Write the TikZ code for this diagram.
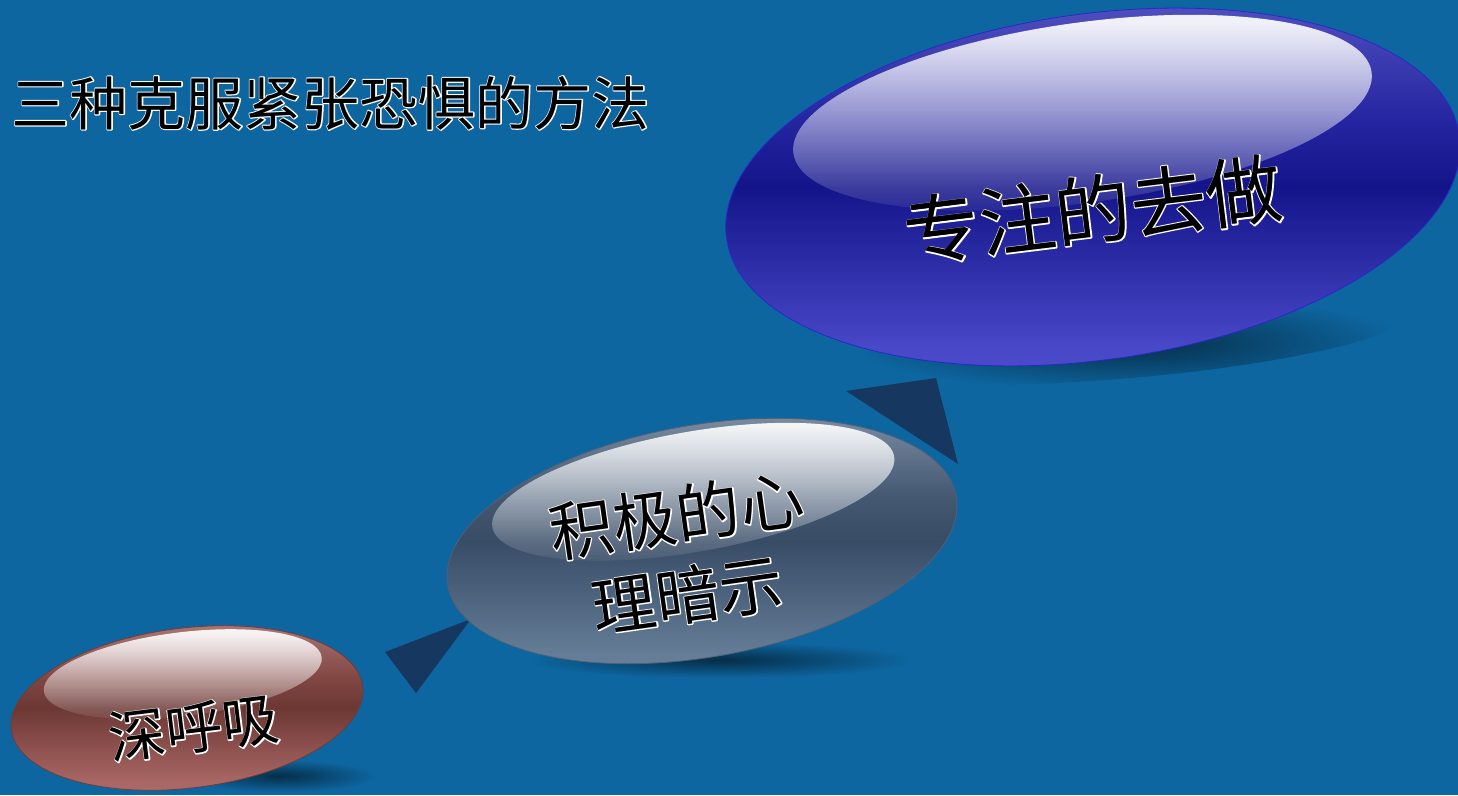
\documentclass[tikz,border=0pt]{standalone}
\usepackage{fontspec}
\setmainfont{Noto Sans CJK SC}
\usepackage{tikz}
\usetikzlibrary{shapes.geometric,fadings,positioning,calc}

% black letters with a thin white edge: white stroked copy under a plain copy
\newcommand\outl[1]{\rlap{\special{pdf:literal direct 1 1 1 RG 2.2 w 1 j 1 Tr}#1\special{pdf:literal direct 0 Tr}}#1}

\definecolor{bgblue}{RGB}{14,102,160}
\definecolor{tridark}{RGB}{22,56,96}
\definecolor{redrim}{RGB}{110,60,58}
\definecolor{grayrim}{RGB}{80,96,118}
\definecolor{bluerim}{RGB}{40,40,200}

% red pill
\definecolor{rpA}{RGB}{196,128,128}
\definecolor{rpB}{RGB}{168,102,100}
\definecolor{rpC}{RGB}{108,56,52}
\definecolor{rpD}{RGB}{128,70,66}
\definecolor{rpE}{RGB}{190,140,140}
\pgfdeclareverticalshading{redpill}{100bp}{color(0bp)=(rpA); color(30bp)=(rpB);
  color(50bp)=(rpC); color(58bp)=(rpD); color(80bp)=(rpE); color(100bp)=(rpE)}
% gray pill
\definecolor{gpA}{RGB}{136,160,186}
\definecolor{gpB}{RGB}{100,124,150}
\definecolor{gpC}{RGB}{56,76,102}
\definecolor{gpD}{RGB}{68,88,114}
\definecolor{gpE}{RGB}{150,166,186}
\pgfdeclareverticalshading{graypill}{100bp}{color(0bp)=(gpA); color(30bp)=(gpB);
  color(50bp)=(gpC); color(58bp)=(gpD); color(80bp)=(gpE); color(100bp)=(gpE)}
% blue pill
\definecolor{bpA}{RGB}{88,88,218}
\definecolor{bpB}{RGB}{72,72,200}
\definecolor{bpC}{RGB}{20,20,138}
\definecolor{bpD}{RGB}{36,36,160}
\definecolor{bpE}{RGB}{100,100,206}
\pgfdeclareverticalshading{bluepill}{100bp}{color(0bp)=(bpA); color(30bp)=(bpB);
  color(50bp)=(bpC); color(58bp)=(bpD); color(80bp)=(bpE); color(100bp)=(bpE)}

\tikzfading[name=softblob, inner color=transparent!0, outer color=transparent!100]
\tikzfading[name=glossfade, top color=transparent!0, middle color=transparent!80,
  bottom color=transparent!100]

\begin{document}
\begin{tikzpicture}[x=1pt, y=-1pt,
    pill/.style={ellipse, shade, inner sep=0pt, line width=0.8pt},
    pilltext/.style={align=center, inner sep=0pt},
    shadowblob/.style={fill=black, opacity=0.55, path fading=softblob},
    gloss/.style={fill=white, opacity=0.92, path fading=glossfade},
    tri/.style={fill=tridark}
]
\fill[bgblue] (0,0) rectangle (1458,795);
\useasboundingbox (0,0) rectangle (1458,795);

% title
\node[anchor=west, font=\fontsize{58}{60}\selectfont] (title) at (8,103)
  {\outl{三种克服紧张恐惧的方法}};

% shadows
\fill[shadowblob] (280,776) ellipse (95 and 16);
\fill[shadowblob] (720,660) ellipse (190 and 18);
\fill[shadowblob, rotate around={5:(1130,340)}] (1130,340) ellipse (275 and 38);

% arrows between the pills
\coordinate (t1a) at (385,652);
\coordinate (t1b) at (471,619);
\coordinate (t1c) at (416,693);
\coordinate (t2a) at (846,391);
\coordinate (t2b) at (936,378);
\coordinate (t2c) at (958,464);
\fill[tri] (t1a) -- (t1b) -- (t1c) -- cycle;
\fill[tri] (t2a) -- (t2b) -- (t2c) -- cycle;

% pills
\node[pill, rotate=7, minimum width=354pt, minimum height=160pt,
      shading=redpill, draw=redrim] (breath) at (187,708) {};
\node[pill, rotate=10, minimum width=516pt, minimum height=232pt,
      shading=graypill, draw=grayrim] (mind) at (702,541) {};
\node[pill, rotate=8, minimum width=740pt, minimum height=346pt,
      shading=bluepill, draw=bluerim] (focus) at (1093,187) {};

% gloss
\begin{scope}[shift={(breath.center)}, rotate=7]
  \clip (0,0) ellipse (176 and 79);
  \fill[gloss] (0,-34) ellipse (140 and 42);
\end{scope}
\begin{scope}[shift={(mind.center)}, rotate=10]
  \clip (0,0) ellipse (257 and 115);
  \fill[gloss] (0,-50) ellipse (204 and 60);
\end{scope}
\begin{scope}[shift={(focus.center)}, rotate=8]
  \clip (0,0) ellipse (369 and 172);
  \fill[gloss] (0,-75) ellipse (292 and 90);
\end{scope}

% labels
\node[pilltext, rotate=7, font=\fontsize{57}{60}\selectfont] (breathtxt)
  at ([shift={(7,20)}]breath.center) {\outl{深呼吸}};
\node[pilltext, rotate=8, font=\fontsize{64}{80}\selectfont] (mindtxt)
  at ([shift={(-20,14)}]mind.center) {\outl{积极的心}\\\outl{理暗示}};
\node[pilltext, rotate=7, font=\fontsize{76}{80}\selectfont] (focustxt)
  at ([shift={(0,23)}]focus.center) {\outl{专注的去做}};

\end{tikzpicture}
\end{document}
